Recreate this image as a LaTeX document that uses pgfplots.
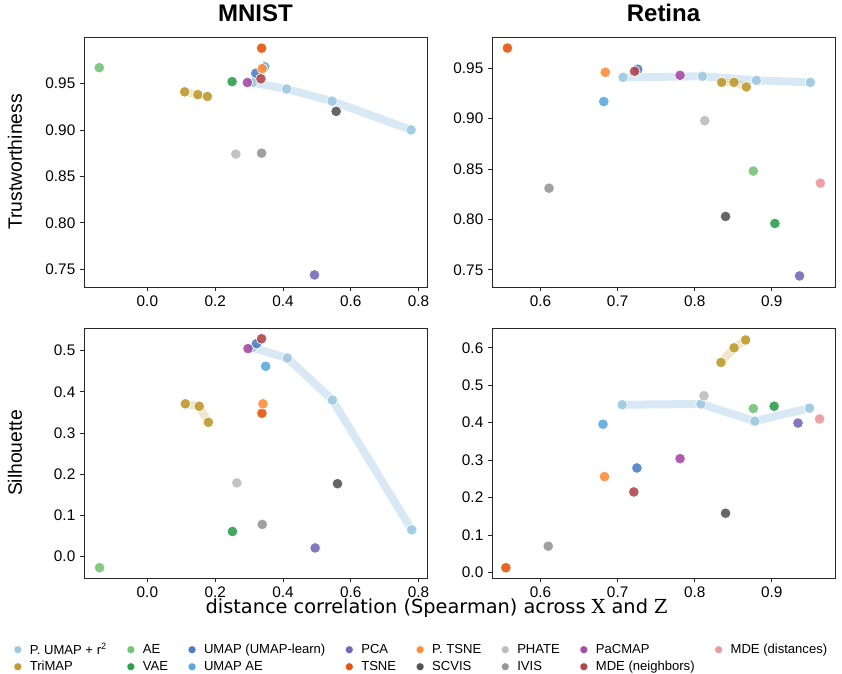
\documentclass[border=0pt]{standalone}
\usepackage{fontspec}
\setmainfont{Liberation Sans}
\newfontfamily\dejavu{DejaVu Sans}
\newfontfamily\dejavuserif{DejaVu Serif}
\usepackage{pgfplots}
\pgfplotsset{compat=1.18}
\usepgfplotslibrary{groupplots}
\usetikzlibrary{calc}

\definecolor{pumap}{HTML}{9ECAE1}
\definecolor{pumapline}{HTML}{A9CDE6}
\definecolor{trimap}{HTML}{BF9B30}
\definecolor{ae}{HTML}{74C476}
\definecolor{vae}{HTML}{2E9E4F}
\definecolor{umap}{HTML}{4C7FC4}
\definecolor{umapae}{HTML}{5DA8DA}
\definecolor{pca}{HTML}{746BB5}
\definecolor{tsne}{HTML}{E6550D}
\definecolor{ptsne}{HTML}{FD8D3C}
\definecolor{scvis}{HTML}{555555}
\definecolor{phate}{HTML}{BDBDBD}
\definecolor{ivis}{HTML}{969696}
\definecolor{pacmap}{HTML}{A64CA6}
\definecolor{mdeneigh}{HTML}{B0474C}
\definecolor{mdedist}{HTML}{EB989E}

\pgfplotsset{
  pt/.style={forget plot, only marks, mark=*, mark size=4pt, color=#1,
    mark options={fill=#1, draw=white, line width=0.5pt}, fill opacity=0.9},
  trail/.style={forget plot, no marks, color=#1, line width=6pt, line join=round, line cap=round, opacity=0.45},
  lg/.style={only marks, mark=*, mark size=3pt, color=#1, mark options={fill=#1, draw=white, line width=0.3pt}},
}

\begin{document}
\begin{tikzpicture}
\begin{groupplot}[
  group style={group size=2 by 2, horizontal sep=48.75pt, vertical sep=30.75pt},
  scale only axis, width=257.25pt, height=187.5pt,
  axis line style={black!85, line width=0.6pt},
  tick align=outside, tick pos=left, major tick length=3pt,
  tick style={black!85, line width=0.6pt},
  ticklabel style={font=\fontsize{11.5}{12}\selectfont},
  /pgf/number format/assume math mode=true,
  title style={font=\bfseries\fontsize{18}{18}\selectfont, yshift=2pt},
  ylabel style={font=\fontsize{14.5}{15}\selectfont, at={(axis description cs:-0.201,0.5)}, anchor=center},
]

% ---------- MNIST, trustworthiness
\nextgroupplot[title={MNIST}, ylabel={Trustworthiness},
  xmin=-0.187, xmax=0.825, ymin=0.731, ymax=1.0,
  xtick={0,0.2,0.4,0.6,0.8}, ytick={0.75,0.8,0.85,0.9,0.95},
  xticklabel style={/pgf/number format/.cd, fixed, fixed zerofill, precision=1},
  yticklabel style={/pgf/number format/.cd, fixed, fixed zerofill, precision=2}]
\addplot[trail=pumapline] coordinates {(0.31,0.951) (0.411,0.944) (0.545,0.931) (0.778,0.900)};
\addplot[trail=trimap, opacity=0.25] coordinates {(0.110,0.941) (0.149,0.938) (0.177,0.936)};
\addplot[pt=pumap] coordinates {(0.31,0.951) (0.411,0.944) (0.545,0.931) (0.778,0.900)};
\addplot[pt=trimap] coordinates {(0.110,0.941) (0.149,0.938) (0.177,0.936)};
\addplot[pt=ae] coordinates {(-0.142,0.967)};
\addplot[pt=vae] coordinates {(0.250,0.952)};
\addplot[pt=umap] coordinates {(0.320,0.961)};
\addplot[pt=umapae] coordinates {(0.346,0.968)};
\addplot[pt=pca] coordinates {(0.493,0.744)};
\addplot[pt=tsne] coordinates {(0.337,0.988)};
\addplot[pt=ptsne] coordinates {(0.339,0.966)};
\addplot[pt=scvis] coordinates {(0.557,0.920)};
\addplot[pt=phate] coordinates {(0.261,0.874)};
\addplot[pt=ivis] coordinates {(0.337,0.875)};
\addplot[pt=pacmap] coordinates {(0.295,0.951)};
\addplot[pt=mdeneigh] coordinates {(0.335,0.955)};

% ---------- Retina, trustworthiness
\nextgroupplot[title={Retina},
  xmin=0.537, xmax=0.982, ymin=0.733, ymax=0.981,
  xtick={0.6,0.7,0.8,0.9}, ytick={0.75,0.8,0.85,0.9,0.95},
  xticklabel style={/pgf/number format/.cd, fixed, fixed zerofill, precision=1},
  yticklabel style={/pgf/number format/.cd, fixed, fixed zerofill, precision=2}]
\addplot[trail=pumapline] coordinates {(0.707,0.941) (0.810,0.942) (0.880,0.938) (0.950,0.936)};
\addplot[trail=trimap, opacity=0.25] coordinates {(0.835,0.936) (0.851,0.936) (0.867,0.9315)};
\addplot[pt=pumap] coordinates {(0.707,0.941) (0.810,0.942) (0.880,0.938) (0.950,0.936)};
\addplot[pt=trimap] coordinates {(0.835,0.936) (0.851,0.936) (0.867,0.9315)};
\addplot[pt=ae] coordinates {(0.876,0.848)};
\addplot[pt=vae] coordinates {(0.904,0.796)};
\addplot[pt=umap] coordinates {(0.726,0.949)};
\addplot[pt=umapae] coordinates {(0.682,0.917)};
\addplot[pt=pca] coordinates {(0.936,0.744)};
\addplot[pt=tsne] coordinates {(0.557,0.970)};
\addplot[pt=ptsne] coordinates {(0.684,0.946)};
\addplot[pt=scvis] coordinates {(0.840,0.803)};
\addplot[pt=phate] coordinates {(0.813,0.898)};
\addplot[pt=ivis] coordinates {(0.611,0.831)};
\addplot[pt=pacmap] coordinates {(0.781,0.943)};
\addplot[pt=mdeneigh] coordinates {(0.722,0.947)};
\addplot[pt=mdedist] coordinates {(0.963,0.836)};

% ---------- MNIST, silhouette
\nextgroupplot[ylabel={Silhouette},
  xmin=-0.187, xmax=0.825, ymin=-0.052, ymax=0.555,
  xtick={0,0.2,0.4,0.6,0.8}, ytick={0,0.1,0.2,0.3,0.4,0.5},
  xticklabel style={/pgf/number format/.cd, fixed, fixed zerofill, precision=1},
  yticklabel style={/pgf/number format/.cd, fixed, fixed zerofill, precision=1},
  xlabel={distance correlation (Spearman) across {\dejavuserif X} and {\dejavuserif Z}},
  xlabel style={font=\dejavu\fontsize{14.5}{15}\selectfont, at={(axis description cs:1.028,-0.066)}, anchor=north},
  legend columns=8,
  legend cell align=left,
  legend style={at={(0.985,-0.238)}, anchor=north, draw=none, fill=none,
    font=\fontsize{9.8}{10}\selectfont, row sep=-0.5pt,
    /tikz/every odd column/.append style={column sep=4pt},
    /tikz/every even column/.append style={column sep=13pt}},
]
\addplot[trail=pumapline] coordinates {(0.31,0.507) (0.413,0.482) (0.546,0.380) (0.780,0.065)};
\addplot[trail=trimap, opacity=0.25] coordinates {(0.112,0.371) (0.153,0.365) (0.180,0.326)};
\addplot[pt=pumap] coordinates {(0.31,0.507) (0.413,0.482) (0.546,0.380) (0.780,0.065)};
\addplot[pt=trimap] coordinates {(0.112,0.371) (0.153,0.365) (0.180,0.326)};
\addplot[pt=ae] coordinates {(-0.141,-0.027)};
\addplot[pt=vae] coordinates {(0.251,0.061)};
\addplot[pt=umap] coordinates {(0.322,0.517)};
\addplot[pt=umapae] coordinates {(0.349,0.462)};
\addplot[pt=pca] coordinates {(0.495,0.021)};
\addplot[pt=tsne] coordinates {(0.338,0.348)};
\addplot[pt=ptsne] coordinates {(0.341,0.371)};
\addplot[pt=scvis] coordinates {(0.561,0.177)};
\addplot[pt=phate] coordinates {(0.264,0.179)};
\addplot[pt=ivis] coordinates {(0.339,0.078)};
\addplot[pt=pacmap] coordinates {(0.297,0.505)};
\addplot[pt=mdeneigh] coordinates {(0.337,0.529)};
% legend, first row then second row
\addlegendimage{lg=pumap}\addlegendentry{P. UMAP + r\textsuperscript{2}}
\addlegendimage{lg=ae}\addlegendentry{AE}
\addlegendimage{lg=umap}\addlegendentry{UMAP (UMAP-learn)}
\addlegendimage{lg=pca}\addlegendentry{PCA}
\addlegendimage{lg=ptsne}\addlegendentry{P. TSNE}
\addlegendimage{lg=phate}\addlegendentry{PHATE}
\addlegendimage{lg=pacmap}\addlegendentry{PaCMAP}
\addlegendimage{lg=mdedist}\addlegendentry{MDE (distances)}
\addlegendimage{lg=trimap}\addlegendentry{TriMAP}
\addlegendimage{lg=vae}\addlegendentry{VAE}
\addlegendimage{lg=umapae}\addlegendentry{UMAP AE}
\addlegendimage{lg=tsne}\addlegendentry{TSNE}
\addlegendimage{lg=scvis}\addlegendentry{SCVIS}
\addlegendimage{lg=ivis}\addlegendentry{IVIS}
\addlegendimage{lg=mdeneigh}\addlegendentry{MDE (neighbors)}

% ---------- Retina, silhouette
\nextgroupplot[
  xmin=0.537, xmax=0.982, ymin=-0.015, ymax=0.653,
  xtick={0.6,0.7,0.8,0.9}, ytick={0,0.1,0.2,0.3,0.4,0.5,0.6},
  xticklabel style={/pgf/number format/.cd, fixed, fixed zerofill, precision=1},
  yticklabel style={/pgf/number format/.cd, fixed, fixed zerofill, precision=1}]
\addplot[trail=pumapline] coordinates {(0.706,0.448) (0.808,0.450) (0.878,0.404) (0.949,0.439)};
\addplot[trail=trimap, opacity=0.25] coordinates {(0.834,0.561) (0.851,0.600) (0.866,0.621)};
\addplot[pt=pumap] coordinates {(0.706,0.448) (0.808,0.450) (0.878,0.404) (0.949,0.439)};
\addplot[pt=trimap] coordinates {(0.834,0.561) (0.851,0.600) (0.866,0.621)};
\addplot[pt=ae] coordinates {(0.876,0.438)};
\addplot[pt=vae] coordinates {(0.903,0.444)};
\addplot[pt=umap] coordinates {(0.725,0.279)};
\addplot[pt=umapae] coordinates {(0.681,0.396)};
\addplot[pt=pca] coordinates {(0.934,0.399)};
\addplot[pt=tsne] coordinates {(0.555,0.0125)};
\addplot[pt=ptsne] coordinates {(0.683,0.256)};
\addplot[pt=scvis] coordinates {(0.840,0.158)};
\addplot[pt=phate] coordinates {(0.812,0.472)};
\addplot[pt=ivis] coordinates {(0.610,0.070)};
\addplot[pt=pacmap] coordinates {(0.781,0.304)};
\addplot[pt=mdeneigh] coordinates {(0.721,0.215)};
\addplot[pt=mdedist] coordinates {(0.962,0.410)};
\end{groupplot}
\pgfresetboundingbox
\path ($(group c1r1.north west)+(-63pt,27.75pt)$) rectangle ($(group c1r1.north west)+(568.5pt,-477.75pt)$);
\end{tikzpicture}
\end{document}
